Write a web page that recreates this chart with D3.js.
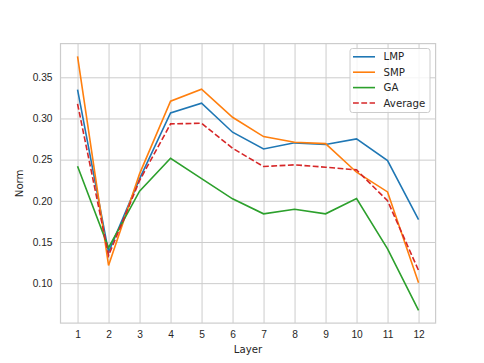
<!DOCTYPE html>
<html>
<head>
<meta charset="utf-8">
<script src="https://cdn.jsdelivr.net/npm/d3@7"></script>
<style>
  body { margin: 0; background: #fff; }
  svg { display: block; font-family: "DejaVu Sans", sans-serif; }
</style>
</head>
<body>
<svg id="chart" width="484" height="363"></svg>
<script>
// data
var layers = [1, 2, 3, 4, 5, 6, 7, 8, 9, 10, 11, 12];
var lmp = [0.335, 0.1376, 0.2267, 0.3067, 0.3185, 0.2833, 0.263, 0.2704, 0.2683, 0.2752, 0.2489, 0.177];
var smp = [0.3755, 0.1215, 0.2327, 0.321, 0.3355, 0.3015, 0.278, 0.2711, 0.2695, 0.2347, 0.2108, 0.1005];
var ga = [0.242, 0.143, 0.2117, 0.2517, 0.227, 0.2024, 0.1842, 0.1898, 0.1842, 0.2028, 0.1417, 0.0669];
var avg = [0.3177, 0.1336, 0.2245, 0.2934, 0.2942, 0.2638, 0.2416, 0.2437, 0.2408, 0.2376, 0.2, 0.1154];
var yTicks = [0.10, 0.15, 0.20, 0.25, 0.30, 0.35];

var series = [
    { name: 'LMP', values: lmp, color: '#1f77b4', dash: null },
    { name: 'SMP', values: smp, color: '#ff7f0e', dash: null },
    { name: 'GA', values: ga, color: '#2ca02c', dash: null },
    { name: 'Average', values: avg, color: '#d62728', dash: '5.8,2.5' }
];

var svg = d3.select('#chart'),
    plotLeft = 60.5, plotRight = 435.6, plotTop = 43.6, plotBottom = 323.1;

// matplotlib-like 5% margins
var xPad = (d3.max(layers) - d3.min(layers)) * 0.05;
var x = d3.scaleLinear()
    .domain([d3.min(layers) - xPad, d3.max(layers) + xPad])
    .range([plotLeft, plotRight]);

var all = d3.merge(series.map(s => s.values)),
    ext = d3.extent(all),
    yPad = (ext[1] - ext[0]) * 0.05;
var y = d3.scaleLinear()
    .domain([ext[0] - yPad, ext[1] + yPad])
    .range([plotBottom, plotTop]);

// grid + tick labels through axes
var xAxis = svg.append('g')
    .attr('transform', 'translate(0,' + plotBottom + ')')
    .call(d3.axisBottom(x).tickValues(layers).tickFormat(d3.format('d'))
        .tickSize(-(plotBottom - plotTop)).tickPadding(7.5));

var yAxis = svg.append('g')
    .attr('transform', 'translate(' + plotLeft + ',0)')
    .call(d3.axisLeft(y).tickValues(yTicks).tickFormat(d3.format('.2f'))
        .tickSize(-(plotRight - plotLeft)).tickPadding(8));

[xAxis, yAxis].forEach(function (g) {
    g.select('.domain').remove();
    g.selectAll('.tick line').attr('stroke', '#cccccc').attr('stroke-width', 1);
    g.selectAll('.tick text').attr('fill', '#262626').style('font-size', '10.2px');
});
xAxis.selectAll('.tick text').attr('dy', '0.71em');

// frame
svg.append('rect')
    .attr('x', plotLeft).attr('y', plotTop)
    .attr('width', plotRight - plotLeft).attr('height', plotBottom - plotTop)
    .attr('fill', 'none').attr('stroke', '#cccccc').attr('stroke-width', 1.2);

// lines
var line = d3.line()
    .x((d, i) => x(layers[i]))
    .y(d => y(d));

svg.append('g').selectAll('path')
    .data(series)
    .enter().append('path')
    .attr('d', d => line(d.values))
    .attr('fill', 'none')
    .attr('stroke', d => d.color)
    .attr('stroke-width', 1.6)
    .attr('stroke-dasharray', d => d.dash);

// axis titles
svg.append('text')
    .attr('x', (plotLeft + plotRight) / 2).attr('y', 353)
    .attr('text-anchor', 'middle')
    .attr('fill', '#262626').style('font-size', '10.2px')
    .text('Layer');

svg.append('text')
    .attr('transform', 'translate(23,' + ((plotTop + plotBottom) / 2) + ') rotate(-90)')
    .attr('text-anchor', 'middle')
    .attr('fill', '#262626').style('font-size', '10.2px')
    .text('Norm');

// legend
var legend = svg.append('g').attr('transform', 'translate(350,48.5)');
legend.append('rect')
    .attr('width', 80).attr('height', 64).attr('rx', 2.5)
    .attr('fill', '#fff').attr('fill-opacity', 0.8)
    .attr('stroke', '#cccccc').attr('stroke-width', 1);

var item = legend.selectAll('.item')
    .data(series)
    .enter().append('g')
    .attr('transform', (d, i) => 'translate(0,' + (8.3 + i * 15.4) + ')');

item.append('line')
    .attr('x1', 3).attr('x2', 25)
    .attr('stroke', d => d.color)
    .attr('stroke-width', 1.6)
    .attr('stroke-dasharray', d => d.dash);

item.append('text')
    .attr('x', 33.5).attr('dy', '0.36em')
    .attr('fill', '#262626').style('font-size', '10.2px')
    .text(d => d.name);
</script>
</body>
</html>
